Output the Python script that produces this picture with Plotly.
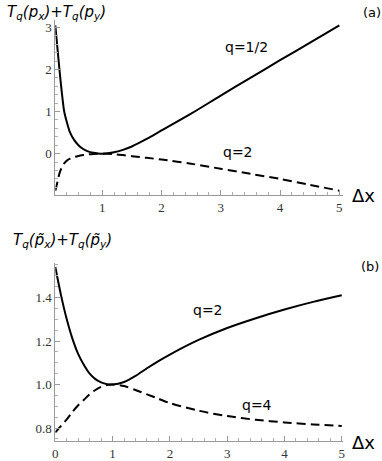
import plotly.graph_objects as go

# panel (a): T_q(p_x)+T_q(p_y)
dx_a = [0.21, 0.25, 0.28, 0.32, 0.36, 0.41, 0.46, 0.53, 0.6, 0.68, 0.75, 0.85, 0.93, 1.0,
        1.1, 1.2, 1.35, 1.5, 1.75, 2.0, 2.5, 3.0, 3.5, 4.0, 4.5, 5.0]
q_half = [3.05, 2.45, 2.0, 1.45, 1.0, 0.72, 0.5, 0.32, 0.2, 0.11, 0.06, 0.02, 0.005, 0.0,
          0.01, 0.035, 0.09, 0.17, 0.35, 0.55, 0.95, 1.38, 1.8, 2.22, 2.63, 3.05]
q_two_a = [-0.88, -0.65, -0.47, -0.32, -0.23, -0.16, -0.12, -0.08, -0.055, -0.035, -0.02, -0.008, -0.002, 0.0,
           -0.005, -0.015, -0.035, -0.06, -0.1, -0.14, -0.24, -0.36, -0.48, -0.6, -0.74, -0.88]

# panel (b): T_q(p~_x)+T_q(p~_y)
dx_b = [0.0, 0.1, 0.2, 0.3, 0.4, 0.5, 0.6, 0.7, 0.8, 0.9, 1.0, 1.2, 1.4, 1.6, 1.8, 2.0, 2.5,
        3.0, 3.5, 4.0, 4.5, 5.0]
q_two_b = [1.54, 1.41, 1.3, 1.21, 1.14, 1.09, 1.05, 1.025, 1.01, 1.002, 1.0, 1.012, 1.04, 1.075,
           1.108, 1.138, 1.205, 1.26, 1.305, 1.345, 1.38, 1.41]
q_four = [0.78, 0.81, 0.84, 0.875, 0.905, 0.93, 0.955, 0.975, 0.99, 0.998, 1.0, 0.993, 0.975, 0.955,
          0.935, 0.915, 0.88, 0.855, 0.838, 0.826, 0.817, 0.81]

W, H = 382, 461
def px(v, total):
    return v / total

fig = go.Figure()
line_solid = dict(color='black', width=2, shape='spline', smoothing=0.8)
line_dash = dict(color='black', width=2, dash='9px,5px', shape='spline', smoothing=0.8)

fig.add_trace(go.Scatter(x=dx_a, y=q_half, mode='lines', line=line_solid, xaxis='x', yaxis='y'))
fig.add_trace(go.Scatter(x=dx_a, y=q_two_a, mode='lines', line=line_dash, xaxis='x', yaxis='y'))
fig.add_trace(go.Scatter(x=dx_b, y=q_two_b, mode='lines', line=line_solid, xaxis='x2', yaxis='y2'))
fig.add_trace(go.Scatter(x=dx_b, y=q_four, mode='lines', line=line_dash, xaxis='x2', yaxis='y2'))

tickfont = dict(family='Liberation Serif', size=13, color='#333333')
axis_common = dict(
    showgrid=False, zeroline=False, showline=True, linecolor='#9a9a9a', linewidth=1,
    ticks='inside', ticklen=5, tickcolor='#9a9a9a', tickfont=tickfont,
)
xdom = [px(53, W), px(345, W)]

fig.update_layout(
    width=W, height=H,
    margin=dict(l=0, r=0, t=0, b=0),
    paper_bgcolor='white', plot_bgcolor='white',
    showlegend=False,
    xaxis=dict(axis_common, domain=xdom, range=[0.21, 5.07], tick0=0, dtick=1,
               minor=dict(dtick=0.2, ticks='inside', ticklen=3, tickcolor='#b0b0b0'),
               anchor='y'),
    yaxis=dict(axis_common, domain=[1 - px(197, H), 1 - px(20, H)], range=[-0.99, 3.18],
               tick0=0, dtick=1,
               minor=dict(dtick=0.2, ticks='inside', ticklen=3, tickcolor='#b0b0b0'),
               anchor='x'),
    xaxis2=dict(axis_common, domain=xdom, range=[0, 5.03], tick0=0, dtick=1,
                minor=dict(dtick=0.2, ticks='inside', ticklen=3, tickcolor='#b0b0b0'),
                anchor='y2'),
    yaxis2=dict(axis_common, domain=[1 - px(445, H), 1 - px(265, H)], range=[0.74, 1.56],
                tick0=0.8, dtick=0.2, tickformat='.1f',
                minor=dict(dtick=0.05, ticks='inside', ticklen=3, tickcolor='#b0b0b0'),
                anchor='x2'),
)

sans = 'DejaVu Sans'
def note(text, x, y, size=14, xanchor='center', family=sans):
    fig.add_annotation(text=text, xref='paper', yref='paper',
                       x=px(x, W), y=1 - px(y, H), showarrow=False,
                       xanchor=xanchor, yanchor='middle',
                       font=dict(family=family, size=size, color='black'))

note('<i>T<sub>q</sub>(p<sub>x</sub>)+T<sub>q</sub>(p<sub>y</sub>)</i>', 2, 13, size=15, xanchor='left')
note('<i>T<sub>q</sub>(p\u0303<sub>x</sub>)+T<sub>q</sub>(p\u0303<sub>y</sub>)</i>', 8, 243, size=15, xanchor='left')
note('(a)', 374, 13, size=13)
note('(b)', 372, 269, size=13)
note('\u0394x', 365, 197, size=18)
note('\u0394x', 365, 446, size=18)
note('q=1/2', 247, 47, size=14)
note('q=2', 238, 153, size=14)
note('q=2', 208, 313, size=14)
note('q=4', 257, 409, size=14)

# drop the default body margin so the figure sits flush in the window
fig.write_html("out.html", config={'displayModeBar': False},
               post_script="document.body.style.margin='0';")
